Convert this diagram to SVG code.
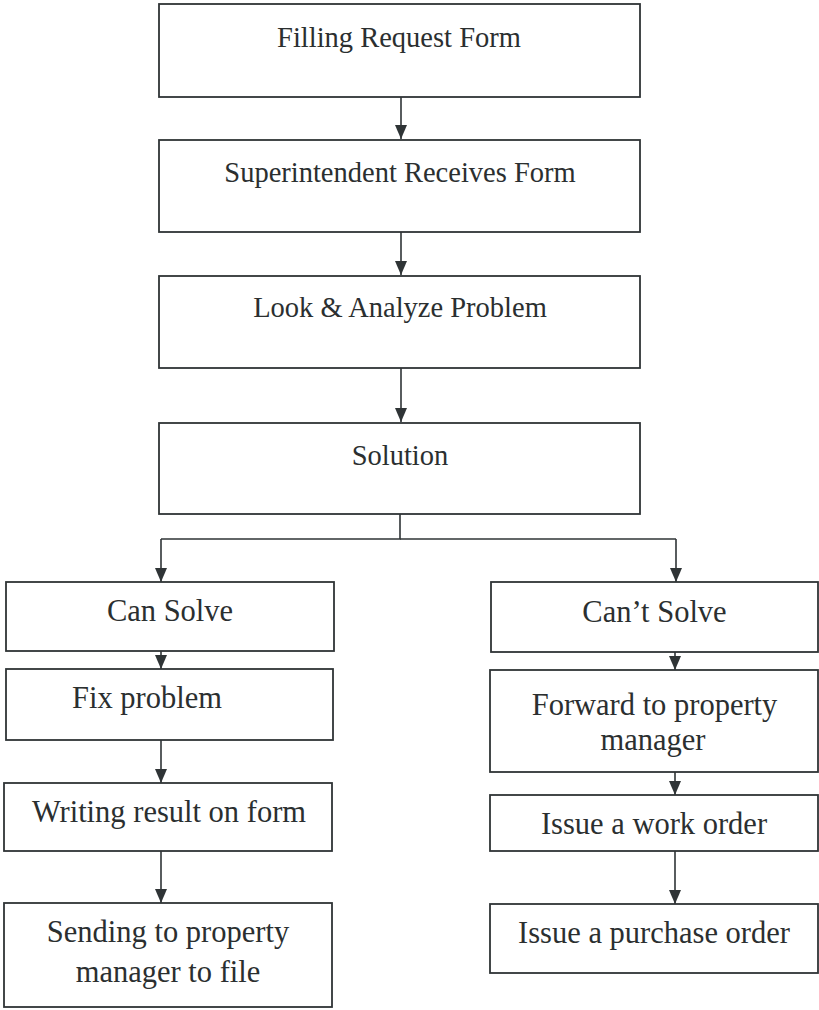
<svg xmlns="http://www.w3.org/2000/svg" width="819" height="1010" viewBox="0 0 819 1010">
<defs>
<marker id="ah" markerUnits="userSpaceOnUse" markerWidth="14" markerHeight="12" refX="14" refY="6" orient="auto" viewBox="0 0 14 12">
<path d="M0,0 L14,6 L0,12 Z" fill="#2f3436"/>
</marker>
<style>
.box{fill:#fff;stroke:#2f3436;stroke-width:1.8}
.t{font-family:'Liberation Serif',serif;fill:#2b2f30;text-anchor:middle}
.s{font-size:28.5px}
.b{font-size:30.5px}
.c{fill:none;stroke:#2f3436;stroke-width:1.6}
.a{fill:none;stroke:#2f3436;stroke-width:1.6}
</style>
</defs>
<rect width="819" height="1010" fill="#fff"/>
<g id="connectors">
<line class="a" x1="401" y1="97" x2="401" y2="139" marker-end="url(#ah)"/>
<line class="a" x1="401" y1="232" x2="401" y2="275" marker-end="url(#ah)"/>
<line class="a" x1="401" y1="368" x2="401" y2="422" marker-end="url(#ah)"/>
<polyline class="c" points="400,514 400,539 161,539"/>
<line class="c" x1="400" y1="539" x2="676" y2="539"/>
<line class="a" x1="161" y1="539" x2="161" y2="582" marker-end="url(#ah)"/>
<line class="a" x1="676" y1="539" x2="676" y2="582" marker-end="url(#ah)"/>
<line class="a" x1="161" y1="651" x2="161" y2="669" marker-end="url(#ah)"/>
<line class="a" x1="161" y1="740" x2="161" y2="783" marker-end="url(#ah)"/>
<line class="a" x1="161" y1="851" x2="161" y2="903" marker-end="url(#ah)"/>
<line class="a" x1="675" y1="652" x2="675" y2="670" marker-end="url(#ah)"/>
<line class="a" x1="675" y1="772" x2="675" y2="795" marker-end="url(#ah)"/>
<line class="a" x1="675" y1="851" x2="675" y2="904" marker-end="url(#ah)"/>
</g>
<g id="n1"><rect class="box" x="159" y="4" width="481" height="93"/><text class="t s" x="399" y="47">Filling Request Form</text></g>
<g id="n2"><rect class="box" x="159" y="140" width="481" height="92"/><text class="t s" x="400" y="182">Superintendent Receives Form</text></g>
<g id="n3"><rect class="box" x="159" y="276" width="481" height="92"/><text class="t s" x="400" y="317">Look &amp; Analyze Problem</text></g>
<g id="n4"><rect class="box" x="159" y="423" width="481" height="91"/><text class="t s" x="400" y="465">Solution</text></g>
<g id="n5"><rect class="box" x="6" y="582" width="328" height="69"/><text class="t b" x="170" y="621">Can Solve</text></g>
<g id="n6"><rect class="box" x="6" y="669" width="327" height="71"/><text class="t b" x="147" y="708">Fix problem</text></g>
<g id="n7"><rect class="box" x="4" y="783" width="328" height="68"/><text class="t b" x="169" y="822">Writing result on form</text></g>
<g id="n8"><rect class="box" x="4" y="903" width="328" height="104"/><text class="t b" x="168" y="942">Sending to property</text><text class="t b" x="168" y="982">manager to file</text></g>
<g id="n9"><rect class="box" x="491" y="582" width="327" height="70"/><text class="t b" x="654.5" y="622">Can’t Solve</text></g>
<g id="n10"><rect class="box" x="490" y="670" width="328" height="102"/><text class="t b" x="654.5" y="715">Forward to property</text><text class="t b" x="653" y="750">manager</text></g>
<g id="n11"><rect class="box" x="490" y="795" width="328" height="56"/><text class="t b" x="654" y="834">Issue a work order</text></g>
<g id="n12"><rect class="box" x="490" y="904" width="328" height="69"/><text class="t b" x="654" y="943">Issue a purchase order</text></g>
</svg>
